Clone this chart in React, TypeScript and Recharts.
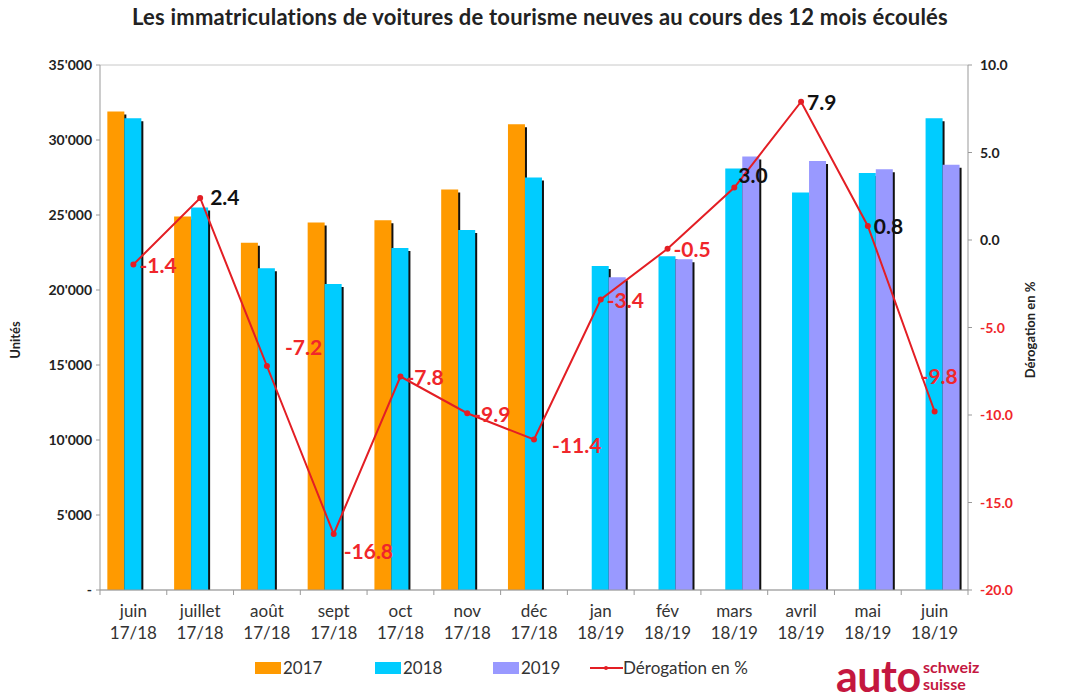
import React from "react";
import { ComposedChart, Bar, Line, XAxis, YAxis, CartesianGrid, LabelList } from "recharts";

const months = ["juin 17/18", "juillet 17/18", "août 17/18", "sept 17/18", "oct 17/18", "nov 17/18", "déc 17/18",
  "jan 18/19", "fév 18/19", "mars 18/19", "avril 18/19", "mai 18/19", "juin 18/19"];
const y2017 = [31900, 24900, 23150, 24500, 24650, 26700, 31050, null, null, null, null, null, null];
const y2018 = [31450, 25500, 21450, 20400, 22800, 24000, 27500, 21600, 22250, 28100, 26500, 27800, 31450];
const y2019 = [null, null, null, null, null, null, null, 20850, 22050, 28900, 28600, 28050, 28350];
const derog = [-1.4, 2.4, -7.2, -16.8, -7.8, -9.9, -11.4, -3.4, -0.5, 3.0, 7.9, 0.8, -9.8];
const leftTicks = [0, 5000, 10000, 15000, 20000, 25000, 30000, 35000];
const rightTicks = [-20, -15, -10, -5, 0, 5, 10];

const data = months.map((m, i) => ({ m, a: y2017[i], b: y2018[i], c: y2019[i], d: derog[i] }));

const FONT = "Lato, 'Open Sans', sans-serif";
const RED = "#f0262b";

const ShadowBar = (props: any) => {
  const { x, y, width, height, fill } = props;
  if (!height || height <= 0) return null;
  return (
    <g>
      <rect x={x + width - 1} y={y + 3} width={3} height={height - 3} fill="#111" />
      <rect x={x} y={y} width={width} height={height} fill={fill} />
    </g>
  );
};

const XTick = (props: any) => {
  const { x, y, payload } = props;
  const [a, b] = String(payload.value).split(" ");
  const half = payload.offset ?? 33;
  return (
    <g>
      <line x1={x - half} x2={x - half} y1={y - 8} y2={y - 3} stroke="#999" />
      {payload.index === months.length - 1 && (
        <line x1={x + half} x2={x + half} y1={y - 8} y2={y - 3} stroke="#999" />
      )}
      <text x={x} y={y + 19} textAnchor="middle" fontFamily={FONT} fontSize={17} fill="#333">{a}</text>
      <text x={x} y={y + 41} textAnchor="middle" fontFamily={FONT} fontSize={17} fill="#333">{b}</text>
    </g>
  );
};

const fmtLeft = (v: number) => (v === 0 ? "-" : `${v / 1000}'000`);

const LeftTick = (props: any) => {
  const { x, y, payload } = props;
  return (
    <text x={x - 2} y={y + 5} textAnchor="end" fontFamily={FONT} fontWeight={700} fontSize={14} fill="#222">
      {fmtLeft(payload.value)}
    </text>
  );
};

const RightTick = (props: any) => {
  const { x, y, payload } = props;
  return (
    <text x={x + 6} y={y + 5} textAnchor="start" fontFamily={FONT} fontWeight={700} fontSize={14}
      fill={payload.value < 0 ? RED : "#222"}>
      {payload.value.toFixed(1)}
    </text>
  );
};

// label nudges for the points Excel placed differently
const nudge: Record<number, [number, number]> = { 1: [10, 2], 2: [18, -16], 3: [10, 20], 6: [18, 8], 9: [4, -10], 12: [-14, -33] };

const DerogLabel = (props: any) => {
  const { x, y, value, index } = props;
  const [dx, dy] = nudge[index] ?? [6, 3];
  return (
    <text x={x + dx} y={y + dy} dominantBaseline="middle" fontFamily={FONT} fontWeight={700} fontSize={21}
      fill={value < 0 ? RED : "#111"}>
      {value.toFixed(1)}
    </text>
  );
};

const legendItems = [
  { label: "2017", color: "#ff9a00", left: 255 },
  { label: "2018", color: "#00ccff", left: 375 },
  { label: "2019", color: "#9999ff", left: 493 },
];

export default function App() {
  return (
    <div style={{ position: "absolute", left: 0, top: 0, width: 1072, height: 699, background: "#fff", fontFamily: FONT }}>
      <div style={{ position: "absolute", top: 3, left: 0, width: 1080, textAlign: "center", fontSize: 22, letterSpacing: 0.2, fontWeight: 700, color: "#222" }}>
        Les immatriculations de voitures de tourisme neuves au cours des 12 mois écoulés
      </div>
      <div style={{ position: "absolute", left: 15, top: 340, transform: "translate(-50%,-50%) rotate(-90deg)", fontSize: 13, fontWeight: 700, color: "#222" }}>
        Unités
      </div>
      <div style={{ position: "absolute", left: 1030, top: 330, transform: "translate(-50%,-50%) rotate(-90deg)", fontSize: 13, fontWeight: 700, color: "#222", whiteSpace: "nowrap" }}>
        Dérogation en %
      </div>
      <ComposedChart width={1072} height={699} data={data} barCategoryGap="11%" barGap={0}
        margin={{ top: 65, right: 44, left: 10, bottom: 49 }}>
        <CartesianGrid vertical={false} stroke="#c8c8c8" />
        <XAxis dataKey="m" interval={0} height={60} tickLine={false} axisLine={{ stroke: "#999" }} tick={<XTick />} />
        <YAxis yAxisId="l" width={90} domain={[0, 35000]} ticks={leftTicks} tick={<LeftTick />}
          axisLine={{ stroke: "#999" }} tickLine={{ stroke: "#999" }} tickSize={4} />
        <YAxis yAxisId="r" orientation="right" width={60} domain={[-20, 10]} ticks={rightTicks} tick={<RightTick />}
          axisLine={{ stroke: "#999" }} tickLine={{ stroke: "#999" }} tickSize={4} />
        <Bar yAxisId="l" dataKey="a" fill="#ff9a00" shape={<ShadowBar />} isAnimationActive={false} />
        <Bar yAxisId="l" dataKey="b" fill="#00ccff" shape={<ShadowBar />} isAnimationActive={false} />
        <Bar yAxisId="l" dataKey="c" fill="#9999ff" shape={<ShadowBar />} isAnimationActive={false} />
        <Line yAxisId="r" dataKey="d" stroke="#e31e24" strokeWidth={2} dot={{ r: 2, fill: "#e31e24", stroke: "#e31e24" }}
          isAnimationActive={false}>
          <LabelList dataKey="d" content={<DerogLabel />} />
        </Line>
      </ComposedChart>
      {legendItems.map((it) => (
        <div key={it.label} style={{ position: "absolute", left: it.left, top: 657, display: "flex", alignItems: "center", fontSize: 17, color: "#333" }}>
          <span style={{ display: "inline-block", width: 26, height: 12, background: it.color, marginRight: 2 }} />
          {it.label}
        </div>
      ))}
      <div style={{ position: "absolute", left: 590, top: 657, display: "flex", alignItems: "center", fontSize: 17, color: "#333" }}>
        <svg width={33} height={12}>
          <line x1={0} x2={33} y1={6} y2={6} stroke="#e31e24" strokeWidth={2} />
          <circle cx={16} cy={6} r={2} fill="#e31e24" />
        </svg>
        Dérogation en %
      </div>
      <div style={{ position: "absolute", left: 836, top: 653, fontSize: 43, fontWeight: 700, color: "#c4173f", lineHeight: "46px", letterSpacing: -0.5 }}>
        auto
      </div>
      <div style={{ position: "absolute", left: 923, top: 658, fontSize: 16, fontWeight: 700, color: "#c4173f", lineHeight: "17px" }}>
        schweiz<br />suisse
      </div>
    </div>
  );
}
